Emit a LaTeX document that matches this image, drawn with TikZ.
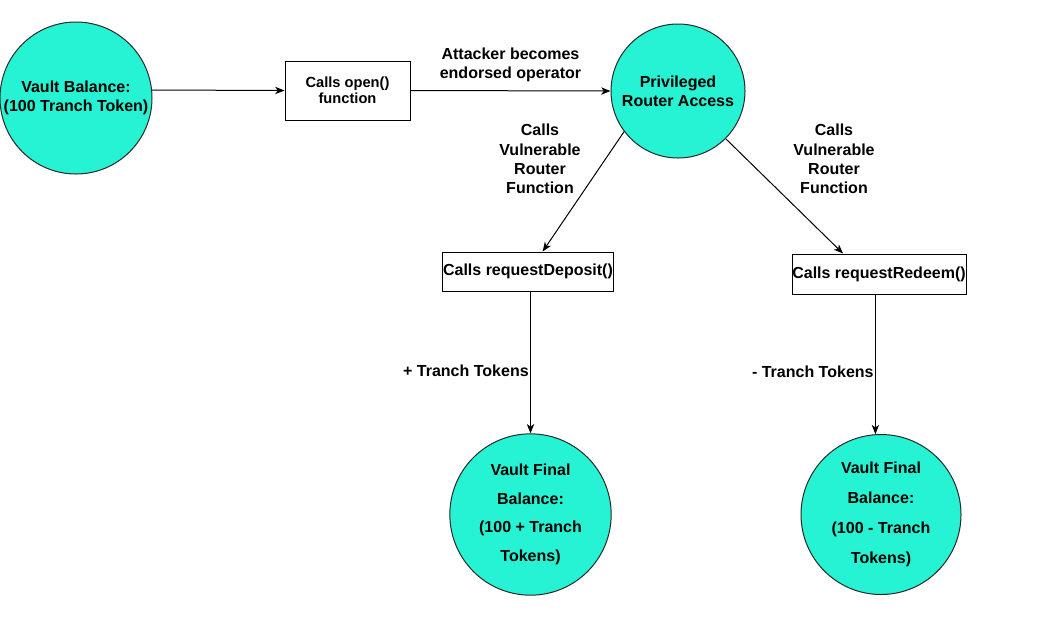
\documentclass[tikz,border=0pt]{standalone}
\usepackage{fontspec}
\setmainfont{Liberation Sans}
\usetikzlibrary{arrows.meta,positioning}
\definecolor{vaultteal}{RGB}{38,243,212}
\definecolor{rimgray}{RGB}{40,40,40}

\begin{document}
\begin{tikzpicture}[x=0.75pt,y=-0.75pt,line width=0.75pt,
  every node/.style={font=\fontsize{12pt}{14.5pt}\selectfont\bfseries},
  balance/.style={circle,draw=rimgray,fill=vaultteal,inner sep=0pt,align=center},
  callbox/.style={draw,fill=white,inner sep=0pt,align=center},
  flow/.style={-{Stealth[length=7pt,width=5.5pt,inset=2pt]}},
  note/.style={align=center,inner sep=1pt}]
  \useasboundingbox (0,0) rectangle (1041,619);
  % nodes
  \node[balance,minimum size=114pt] (start) at (76,98) {Vault Balance:\\(100 Tranch Token)};
  \node[callbox,minimum width=93.75pt,minimum height=44.25pt,
    font=\fontsize{11pt}{12pt}\selectfont\bfseries] (open) at (347.5,90.5) {Calls open()\\function};
  \node[balance,minimum size=100.5pt] (router) at (678,91) {Privileged\\Router Access};
  \node[callbox,minimum width=128.25pt,minimum height=29.25pt] (deposit) at (528,271.5) {Calls requestDeposit()};
  \node[callbox,minimum width=130.5pt,minimum height=30pt] (redeem) at (879,274) {Calls requestRedeem()};
  \node[balance,minimum size=121pt] (finalup) at (530.5,514.5)
    {Vault Final\\[7pt]Balance:\\[7pt](100 + Tranch\\[7pt]Tokens)};
  \node[balance,minimum size=120pt] (finaldown) at (881,514.5)
    {Vault Final\\[8pt]Balance:\\[8pt](100 - Tranch\\[8pt]Tokens)};
  \node[note] (vulnleft) at (540,159) {Calls\\Vulnerable\\Router\\Function};
  \node[note] (vulnright) at (834,159) {Calls\\Vulnerable\\Router\\Function};
  % connectors
  \draw[flow] (start.6) -- (open.west);
  \draw[flow] (open.east) -- (router.west)
    node[midway,above,note,yshift=5pt] (endorse) {Attacker becomes\\endorsed operator};
  \draw[flow] (router.217) -- ([xshift=11pt]deposit.north);
  \draw[flow] (router.315) -- ([xshift=-27pt]redeem.north);
  \draw[flow] (deposit.south -| finalup.north) -- (finalup.north)
    node[pos=0.56,left,note] (plus) {+ Tranch Tokens};
  \draw[flow] (redeem.south -| finaldown.94) -- (finaldown.94)
    node[pos=0.55,left,note] (minus) {- Tranch Tokens};
\end{tikzpicture}
\end{document}
